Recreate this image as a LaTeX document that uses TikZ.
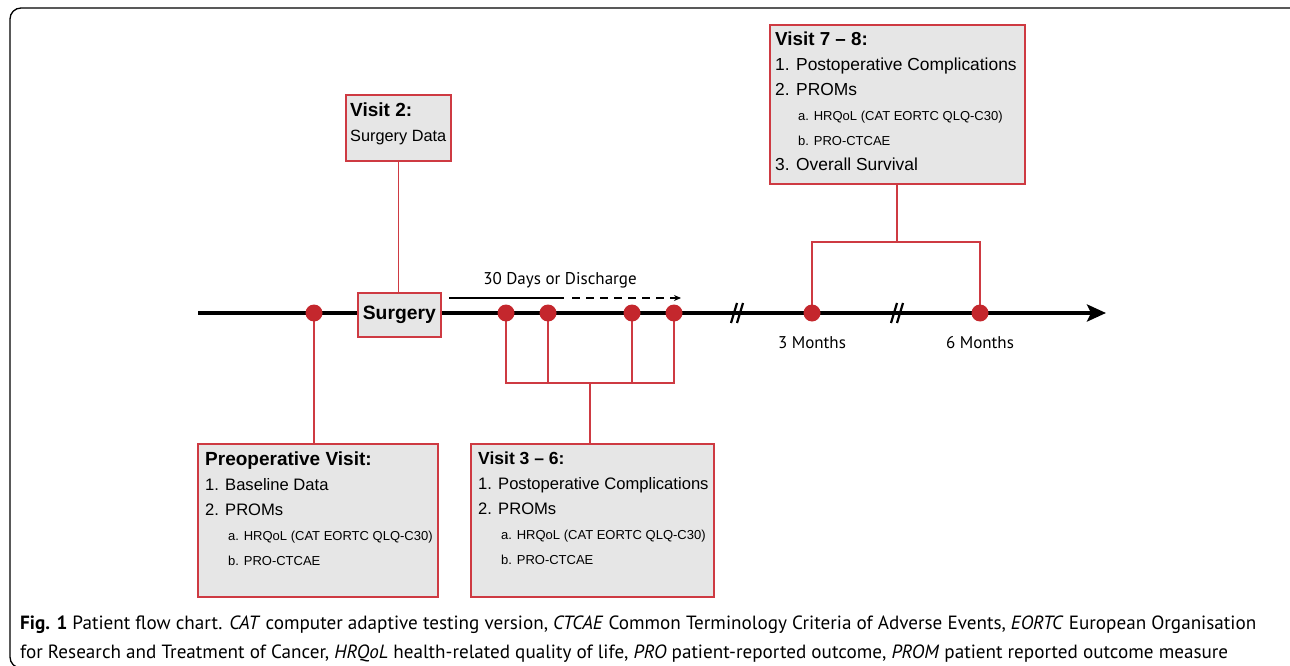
\documentclass[tikz,border=0pt]{standalone}
\usepackage{fontspec}
\setmainfont{Liberation Sans}
\newfontfamily\capfont{PT Sans}
\usetikzlibrary{arrows.meta}
\usetikzlibrary{positioning}

\definecolor{visitred}{RGB}{196,39,45}
\definecolor{boxred}{RGB}{206,58,66}
\definecolor{boxgray}{RGB}{230,230,230}

\newcommand{\subline}[1]{\hspace*{23pt}{\fontsize{13}{25}\selectfont #1}}
\newcommand{\boxhead}[2][19]{{\bfseries\fontsize{#1}{25}\selectfont #2}}

\begin{document}
\begin{tikzpicture}[
            x=1pt, y=-1pt,
            visit/.style={
                circle,
                fill=visitred,
                inner sep=0pt,
                minimum size=17pt
            },
            infobox/.style={
                draw=boxred,
                fill=boxgray,
                line width=1.6pt,
                inner sep=0pt,
                anchor=north west
            },
            boxtext/.style={
                anchor=north west,
                inner sep=0pt,
                align=left,
                font=\fontsize{#1}{25}\selectfont
            },
            boxtext/.default=17,
            link/.style={draw=boxred, line width=1.4pt},
            cut/.style={line width=2.2pt, black},
            tlabel/.style={font=\capfont\fontsize{17}{20}\selectfont, inner sep=0pt}
        ]
        \path[use as bounding box] (0,0) rectangle (1290,666);
        \clip (0,0) rectangle (1290,666);
        \draw[line width=1.3pt, rounded corners=11pt] (1310,8) -- (10,8) -- (10,668) -- (1310,668);

        % time line
        \coordinate (tstart) at (198,313);
        \coordinate (tend) at (1106,313);
        \draw[line width=4pt, -{Stealth[length=19pt,width=17pt,inset=4pt]}] (tstart) -- (tend);
        \foreach \bx in {738, 898} {
            \draw[cut] (\bx-7,323) -- (\bx-1,303);
            \draw[cut] (\bx-1,323) -- (\bx+5,303);
        }

        % 30 days window
        \coordinate (win0) at (449,298);
        \coordinate (win1) at (564,298);
        \coordinate (win2) at (572,298);
        \coordinate (win3) at (681,298);
        \draw[line width=1.3pt] (win0) -- (win1);
        \draw[line width=1.3pt, dash pattern=on 8pt off 6pt, -{Stealth[length=7pt,width=6pt]}] (win2) -- (win3);
        \node[tlabel] (window) at (560,280) {30 Days or Discharge};

        % boxes
        \node[infobox, minimum width=83pt, minimum height=44pt] (surgery) at (357,292) {};
        \node[font=\bfseries\fontsize{19.3}{20}\selectfont, inner sep=0pt] at (surgery.center) {Surgery};
        \node[infobox, minimum width=105pt, minimum height=66pt] (visit2) at (345,94) {};
        \node[boxtext=16.3] (visit2txt) at ([xshift=5pt,yshift=-9pt]visit2.north west) {\boxhead{Visit 2:}\\Surgery Data};
        \node[infobox, minimum width=240pt, minimum height=153pt] (preop) at (197,443) {};
        \node[boxtext=16.6] (preoptxt) at ([xshift=8pt,yshift=-9pt]preop.north west) {\boxhead{Preoperative Visit:}\\1. Baseline Data\\2. PROMs\\\subline{a. HRQoL (CAT EORTC QLQ-C30)}\\\subline{b. PRO-CTCAE}};
        \node[infobox, minimum width=243pt, minimum height=153pt] (visit36) at (470,443) {};
        \node[boxtext=16.6] (visit36txt) at ([xshift=8pt,yshift=-9pt]visit36.north west) {\boxhead[17.5]{Visit 3 -- 6:}\\1. Postoperative Complications\\2. PROMs\\\subline{a. HRQoL (CAT EORTC QLQ-C30)}\\\subline{b. PRO-CTCAE}};
        \node[infobox, minimum width=255pt, minimum height=159pt] (visit78) at (769,24) {};
        \node[boxtext=17.4] (visit78txt) at ([xshift=6pt,yshift=-8pt]visit78.north west) {\boxhead[18.8]{Visit 7 -- 8:}\\1. Postoperative Complications\\2. PROMs\\\subline{a. HRQoL (CAT EORTC QLQ-C30)}\\\subline{b. PRO-CTCAE}\\3. Overall Survival};

        % visits on the time line
        \coordinate (v0) at (314,313);
        \coordinate (v3) at (506,313);
        \coordinate (v4) at (548,313);
        \coordinate (v5) at (632,313);
        \coordinate (v6) at (674,313);
        \coordinate (v7) at (812,313);
        \coordinate (v8) at (980,313);
        \coordinate (mid36) at (590,383);
        \coordinate (mid78) at (897,242);

        \draw[link] (v0) -- (v0 |- preop.north);
        \draw[link] (visit2.south) -- (visit2.south |- surgery.north);
        \draw[link] (v3) |- (mid36) -| (v6);
        \draw[link] (v4) -- (v4 |- mid36);
        \draw[link] (v5) -- (v5 |- mid36);
        \draw[link] (mid36) -- (mid36 |- visit36.north);
        \draw[link] (v7) |- (mid78) -| (v8);
        \draw[link] (mid78) -- (mid78 |- visit78.south);

        \foreach \v in {v0, v3, v4, v5, v6, v7, v8} {
            \node[visit] at (\v) {};
        }
        \node[tlabel] (m3) at (812,343) {3 Months};
        \node[tlabel] (m6) at (980,343) {6 Months};

        % caption
        \node[anchor=base west, inner sep=0pt, font=\capfont\fontsize{19.15}{20}\selectfont] (cap1) at (20,629) {\textbf{Fig. 1} Patient flow chart. \textit{CAT} computer adaptive testing version, \textit{CTCAE} Common Terminology Criteria of Adverse Events, \textit{EORTC} European Organisation};
        \node[anchor=base west, inner sep=0pt, font=\capfont\fontsize{19.15}{20}\selectfont] (cap2) at (20,658) {for Research and Treatment of Cancer, \textit{HRQoL} health-related quality of life, \textit{PRO} patient-reported outcome, \textit{PROM} patient reported outcome measure};
        \end{tikzpicture}
\end{document}
